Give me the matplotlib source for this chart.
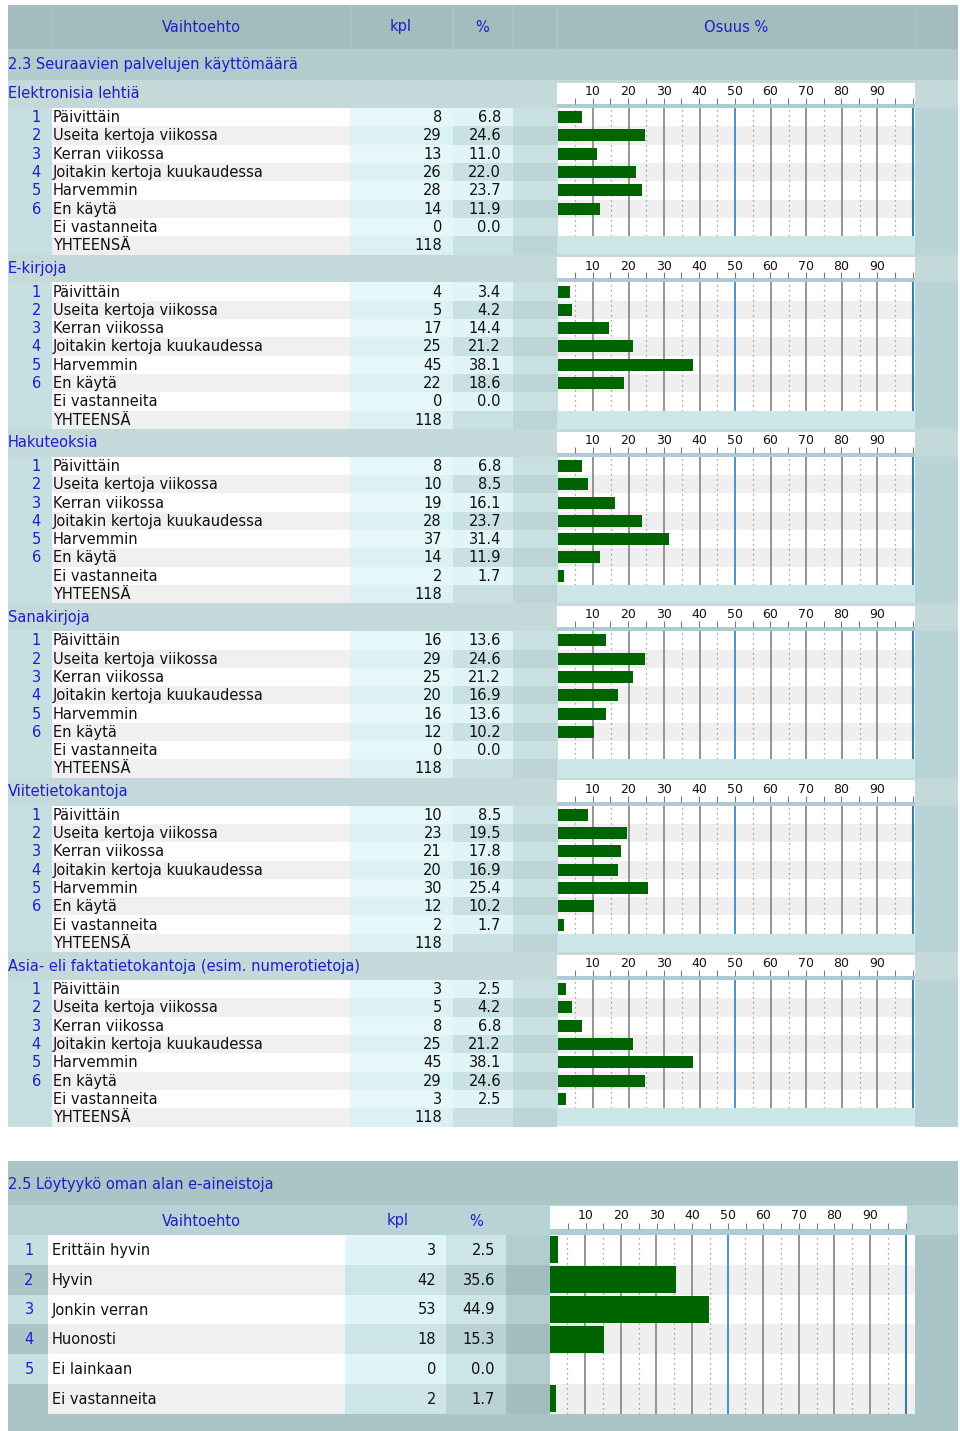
"""Kirjaston e-palvelukysely: taulukko + vaakapalkit (2.3 ja 2.5)."""
import matplotlib
matplotlib.use("Agg")
import matplotlib.pyplot as plt
from matplotlib.patches import Rectangle

# ---- data -------------------------------------------------------------
cats_23 = ["Päivittäin", "Useita kertoja viikossa", "Kerran viikossa",
           "Joitakin kertoja kuukaudessa", "Harvemmin", "En käytä", "Ei vastanneita"]
nums_23 = ["1", "2", "3", "4", "5", "6", ""]
groups_23 = ["Elektronisia lehtiä", "E-kirjoja", "Hakuteoksia", "Sanakirjoja",
             "Viitetietokantoja", "Asia- eli faktatietokantoja (esim. numerotietoja)"]
kpl_lehdet = [8, 29, 13, 26, 28, 14, 0]
pct_lehdet = [6.8, 24.6, 11.0, 22.0, 23.7, 11.9, 0.0]
kpl_ekirjat = [4, 5, 17, 25, 45, 22, 0]
pct_ekirjat = [3.4, 4.2, 14.4, 21.2, 38.1, 18.6, 0.0]
kpl_hakuteos = [8, 10, 19, 28, 37, 14, 2]
pct_hakuteos = [6.8, 8.5, 16.1, 23.7, 31.4, 11.9, 1.7]
kpl_sanakirja = [16, 29, 25, 20, 16, 12, 0]
pct_sanakirja = [13.6, 24.6, 21.2, 16.9, 13.6, 10.2, 0.0]
kpl_viite = [10, 23, 21, 20, 30, 12, 2]
pct_viite = [8.5, 19.5, 17.8, 16.9, 25.4, 10.2, 1.7]
kpl_asia = [3, 5, 8, 25, 45, 29, 3]
pct_asia = [2.5, 4.2, 6.8, 21.2, 38.1, 24.6, 2.5]
total_23 = 118

cats_25 = ["Erittäin hyvin", "Hyvin", "Jonkin verran", "Huonosti", "Ei lainkaan", "Ei vastanneita"]
nums_25 = ["1", "2", "3", "4", "5", ""]
kpl_25 = [3, 42, 53, 18, 0, 2]
pct_25 = [2.5, 35.6, 44.9, 15.3, 0.0, 1.7]

tick_vals = [10, 20, 30, 40, 50, 60, 70, 80, 90]

# ---- styling ----------------------------------------------------------
BLUE = "#1e1ec8"
INK = "#111111"
GREEN = "#006400"
FS = 10.5
W, H = 960, 1431

plt.rcParams["font.family"] = ["DejaVu Sans"]
fig = plt.figure(figsize=(W / 100, H / 100), dpi=100)
bg = fig.add_axes([0, 0, 1, 1])
bg.set_xlim(0, W); bg.set_ylim(H, 0); bg.axis("off")


def rect(x0, y0, x1, y1, c):
    bg.add_patch(Rectangle((x0, y0), x1 - x0, y1 - y0, facecolor=c, edgecolor="none", lw=0))


def txt(x, y, s, color=INK, ha="left", fs=FS):
    bg.text(x, y, s, color=color, ha=ha, va="center", fontsize=fs)


def px_axes(x0, y0, x1, y1):
    return fig.add_axes([x0 / W, 1 - y1 / H, (x1 - x0) / W, (y1 - y0) / H])


def scale_head(x0, x100, xr, y0, y1, fs=9):
    ax = px_axes(x0, y0, xr, y1)
    k = (x100 - x0) / 100
    ax.set_xlim(0, (xr - x0) / k); ax.set_ylim(0, 1)
    ax.set_facecolor("white")
    for s in ax.spines.values():
        s.set_visible(False)
    ax.set_yticks([])
    ax.set_xticks(range(5, 101, 5))
    ax.tick_params(axis="x", direction="in", length=4, width=0.8, color="#7a7a7a",
                   labelbottom=False)
    for v in tick_vals:
        ax.text(v, 0.58, str(v), ha="center", va="center", fontsize=fs, color=INK)
    return ax


def bar_chart(x0, x100, xr, y0, y1, pct, bh):
    ax = px_axes(x0, y0, xr, y1)
    k = (x100 - x0) / 100
    n = len(pct)
    ax.set_xlim(0, (xr - x0) / k); ax.set_ylim(n - 0.5, -0.5)
    for i in range(n):
        ax.axhspan(i - 0.5, i + 0.5, color="white" if i % 2 == 0 else "#efefef", lw=0)
    for v in range(5, 100, 10):
        ax.axvline(v, color="#8a8a8a", lw=0.9, ls=(0, (1, 3)))
    for v in tick_vals:
        if v != 50:
            ax.axvline(v, color="#8c8c8c", lw=1.3)
    ax.axvline(50, color="#3a8cc4", lw=1.3)
    ax.axvline(100, color="#3a7ca8", lw=1.5)
    ax.barh(range(n), pct, height=bh, color=GREEN, edgecolor="none", lw=0, zorder=3)
    ax.axis("off")
    return ax


# ---- part 2.3 ----------------------------------------------------------
rect(8, 5, 958, 1126.4, "#c3d9da")
rect(8, 5, 958, 49, "#a3bdbe")
for xd in [52, 350, 453, 513, 557, 915]:
    bg.plot([xd, xd], [5, 49], color="#b0c7c8", lw=1)
txt(201, 27, "Vaihtoehto", BLUE, "center")
txt(401, 27, "kpl", BLUE, "center")
txt(482, 27, "%", BLUE, "center")
txt(736, 27, "Osuus %", BLUE, "center")
rect(8, 49, 958, 80, "#b3cbcc")
txt(8, 64, "2.3 Seuraavien palvelujen käyttömäärä", BLUE)

kpl_sets = [kpl_lehdet, kpl_ekirjat, kpl_hakuteos, kpl_sanakirja, kpl_viite, kpl_asia]
pct_sets = [pct_lehdet, pct_ekirjat, pct_hakuteos, pct_sanakirja, pct_viite, pct_asia]
SEC, HEAD, ROW = 174.4, 28, 18.3
cols = {
    "num": (8, 52, ["#c6dfe0", "#c6dfe0"]),
    "lab": (52, 350, ["#ffffff", "#f0f0f0"]),
    "kpl": (350, 453, ["#e6f7f9", "#dcf1f3"]),
    "pct": (453, 513, ["#e1f5f8", "#c9e1e3"]),
    "gap": (513, 557, ["#c9e0e2", "#bcd4d6"]),
    "rgt": (915, 958, ["#b9d4d6", "#b9d4d6"]),
}
for g, name in enumerate(groups_23):
    top = 80 + g * SEC
    txt(8, top + 14, name, BLUE)
    scale_head(557, 912.5, 915, top + 2.7, top + 24)
    rect(557, top + 24, 915, top + HEAD, "#aecbd3")
    rows = cats_23 + ["YHTEENSÄ"]
    for i, lab in enumerate(rows):
        y0 = top + HEAD + ROW * i
        for x0, x1, cc in cols.values():
            rect(x0, y0, x1, y0 + ROW + 0.2, cc[i % 2])
        yc = y0 + ROW / 2 + 0.5
        txt(53, yc, lab)
        if i < len(cats_23):
            txt(41, yc, nums_23[i], BLUE, "right")
            txt(442, yc, str(kpl_sets[g][i]), ha="right")
            txt(501, yc, f"{pct_sets[g][i]:.1f}", ha="right")
        else:
            txt(442, yc, str(total_23), ha="right")
            rect(557, y0, 915, y0 + ROW, "#cde6e8")
    bar_chart(557.5, 913, 915, top + HEAD, top + HEAD + ROW * len(cats_23),
              pct_sets[g], 0.66)

# ---- part 2.5 ----------------------------------------------------------
rect(8, 1161, 958, 1431, "#a9c5c6")
txt(8, 1184, "2.5 Löytyykö oman alan e-aineistoja", BLUE)
rect(8, 1205, 958, 1235, "#b8d3d5")
txt(201, 1221, "Vaihtoehto", BLUE, "center")
txt(398, 1221, "kpl", BLUE, "center")
txt(476, 1221, "%", BLUE, "center")
scale_head(550, 905.5, 907, 1206, 1229)
rect(550, 1229, 907, 1234.5, "#aecbd3")

ROW2 = 29.8
cols2 = [
    (8, 48, ["#c6e0e1", "#a9c5c7"]),
    (48, 345, ["#ffffff", "#f0f0f0"]),
    (345, 446, ["#e0f5f7", "#cde5e7"]),
    (446, 506, ["#cde5e7", "#b9d3d5"]),
    (506, 550, ["#b3cdcf", "#a3bdbe"]),
]
for i, lab in enumerate(cats_25):
    y0 = 1235 + ROW2 * i
    for x0, x1, cc in cols2:
        rect(x0, y0, x1, y0 + ROW2 + 0.2, cc[i % 2])
    yc = y0 + ROW2 / 2 + 0.5
    txt(29, yc, nums_25[i], BLUE, "center")
    txt(52, yc, lab)
    txt(436, yc, str(kpl_25[i]), ha="right")
    txt(495, yc, f"{pct_25[i]:.1f}", ha="right")
bar_chart(549.5, 905.5, 915, 1235, 1235 + ROW2 * len(cats_25), pct_25, 0.9)

fig.savefig("out.png", dpi=100)
